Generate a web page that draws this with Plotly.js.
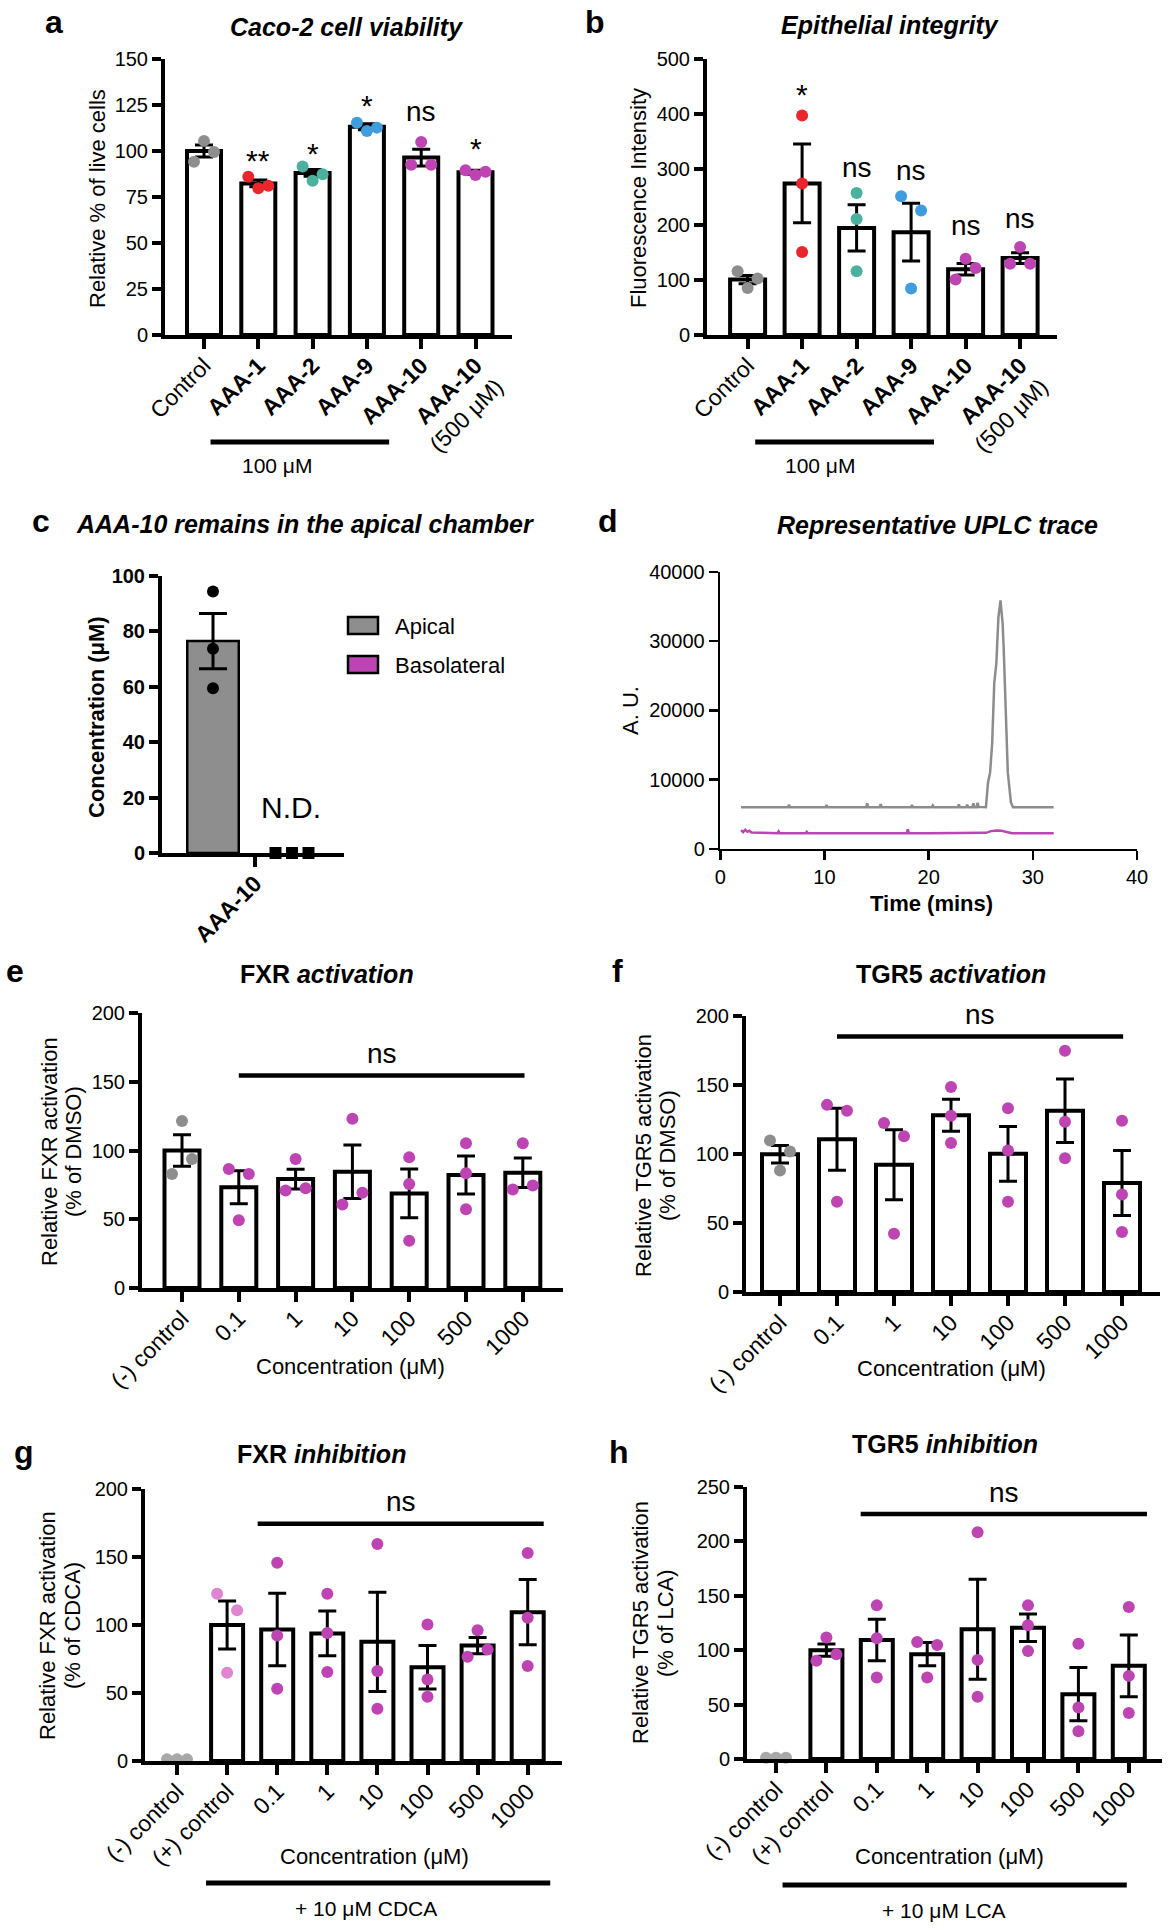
<!DOCTYPE html>
<html><head><meta charset="utf-8">
<script src="https://cdn.plot.ly/plotly-3.0.1.min.js"></script>
<style>body{margin:0;background:#fff}#chart{width:1168px;height:1932px}</style>
</head><body><div id="chart"></div>
<script>
// ---------------- DATA ----------------
// Panel a: Caco-2 cell viability
const aTickText = ['Control','<b>AAA-1</b>','<b>AAA-2</b>','<b>AAA-9</b>','<b>AAA-10</b>','<b>AAA-10</b><br>(500 μM)'];
const aMeans = [100, 82.4, 88.1, 113.2, 96.4, 88.5];
const aSem = [3.2, 1.8, 1.8, 1.6, 4.5, 1.1];
const aDots = [[105.5,99.5,94.1],[86.0,79.7,81.1],[91.6,83.8,87.4],[115.4,110.9,112.7],[104.9,92.5,92.5],[89.6,86.9,88.7]];
const aJitter = [[0,1,-1],[-1,0,1],[-1,0,1],[-1,0,1],[0,-1,1],[-1,0,1]];
const aSig = ['','**','*','*','ns','*'];
const aSigY = [0, 99.2, 102.8, 128.9, 121.7, 105.5];

// Panel b: Epithelial integrity
const bTickText = aTickText;
const bMeans = [100.5, 274.6, 194.0, 186.3, 119.0, 139.4];
const bSem = [7.5, 71.3, 41.8, 52.3, 10.5, 9.8];
const bDots = [[115.4,102.2,85.3],[397.8,274.6,150.2],[257.2,210.3,115.4],[251.2,225.4,84.1],[138.2,121.4,100.4],[159.3,129.2,129.2]];
const bJitter = [[-1,1,0],[0,0,0],[0,0,0],[-1,1,0],[0,1,-1],[0,-1,1]];
const bSig = ['','*','ns','ns','ns','ns'];
const bSigY = [0, 450.7, 303.5, 297.5, 198.3, 210.3];

// Panel c: AAA-10 remains in the apical chamber
const cTickText = ['<b>AAA-10</b>'];
const cApicalMean = [76.5];
const cApicalSem = [10.0];
const cApicalDots = [94.4, 73.7, 59.5];
const cBasoDots = [0, 0, 0];

// Panel d: UPLC trace
const dApicalT = [2.0,4.0,6.5,6.6,6.7,10.1,10.2,10.3,14.0,14.1,14.2,15.3,15.4,15.5,18.3,18.4,18.5,20.3,20.4,20.5,22.8,22.9,23.0,23.6,23.7,23.8,24.2,24.3,24.4,24.6,24.7,24.8,25.5,25.7,25.9,26.1,26.3,26.5,26.7,26.9,27.1,27.2,27.4,27.6,27.9,28.1,32.0];
const dApicalY = [6000,6000,6000,6350,6000,6000,6300,6000,6000,6550,6000,6000,6450,6000,6000,6300,6000,6000,6250,6000,6000,6400,6000,6000,6350,6000,6000,6550,6000,6000,6650,6050,6000,9580,11000,15300,23960,26800,33500,35900,32600,29200,20600,11000,6700,6000,6000];
const dBasoT = [2.0,2.2,2.4,2.6,2.8,3.0,4.0,5.5,5.6,5.7,7.0,8.2,8.3,8.4,10.0,12.0,15.0,17.9,18.0,18.1,20.0,22.0,24.0,25.5,26.0,26.5,27.0,27.5,28.0,30.0,32.0];
const dBasoY = [2700,2400,2750,2450,2600,2350,2300,2250,2500,2250,2250,2250,2450,2250,2250,2250,2250,2250,2800,2250,2250,2250,2250,2300,2550,2650,2600,2450,2250,2250,2250];

// Panel e: FXR activation
const eTickText = ['(-) control','0.1','1','10','100','500','1000'];
const eMeans = [100, 73.3, 79.2, 84.5, 68.8, 82.2, 83.8];
const eSem = [11.5, 12.0, 7.2, 19.5, 17.7, 13.8, 10.7];
const eDots = [[121.4,93.8,82.9],[86.5,82.9,49.3],[93.8,70.9,72.6],[123.1,69.2,60.8],[95.0,75.7,34.4],[105.3,83.4,57.2],[105.3,71.6,74.5]];
const eJitter = [[0,1,-1],[-1,1,0],[0,-1,1],[0,1,-1],[0,0,0],[0,0,0],[0,-1,1]];

// Panel f: TGR5 activation
const fTickText = eTickText;
const fMeans = [99.8, 110.7, 92.2, 128.1, 100.1, 131.3, 79.0];
const fSem = [6.3, 22.5, 25.4, 11.6, 19.8, 23.0, 23.6];
const fDots = [[109.7,101.8,88.1],[135.6,131.3,65.4],[122.4,112.8,42.2],[148.5,127.7,108.0],[133.2,102.5,65.4],[174.9,123.4,97.0],[124.1,70.7,43.4]];
const fJitter = [[-1,1,0],[-1,1,0],[-1,1,0],[0,0,0],[0,0,0],[0,0,0],[0,0,0]];

// Panel g: FXR inhibition
const gTickText = ['(-) control','(+) control','0.1','1','10','100','500','1000'];
const gMeans = [null, 100, 96.7, 93.8, 87.6, 69.0, 84.9, 109.4];
const gSem = [null, 17.7, 26.7, 16.5, 36.5, 16.0, 6.0, 24.0];
const gDots = [[1.2,1.2,1.2],[122.9,110.9,64.9],[145.7,92.3,53.1],[122.9,94.2,65.4],[159.6,66.1,38.4],[100.4,60.0,47.2],[96.2,82.0,76.6],[153.0,105.3,69.8]];
const gJitter = [[-1,0,1],[-1,1,0],[0,0,0],[0,0,0],[0,0,0],[0,0,0],[0,1,-1],[0,0,0]];

// Panel h: TGR5 inhibition
const hTickText = gTickText;
const hMeans = [null, 100, 109.4, 96.3, 119.2, 120.7, 59.6, 85.6];
const hSem = [null, 5.6, 19.1, 10.7, 45.9, 12.6, 24.4, 28.3];
const hDots = [[1.2,1.2,1.2],[111.6,96.3,90.2],[141.2,110.9,74.9],[107.6,104.8,74.9],[208.4,91.1,57.2],[141.2,122.9,99.3],[106.0,47.4,25.4],[139.7,76.4,42.2]];
const hJitter = [[-1,0,1],[0,1,-1],[0,0,0],[-1,1,0],[0,0,0],[0,0,0],[0,0,0],[0,0,0]];

// ---------------- STYLE / LAYOUT ----------------
const FONT = '"Liberation Sans", Arial, Helvetica, sans-serif';
const W = 1168, H = 1932, LW = 4, JIT = 10;
const XTICK = 23, YTICK = 20, TITLE = 25;
const PX = x => x / W;
const PY = y => 1 - y / H;
const GRAY = '#8e8e8e', RED = '#e8262b', TEAL = '#4bb19e', BLUE = '#3f9ddf', MAG = '#bd44b2', LMAG = '#df85d2', LGRAY = '#a8a8a8';

const aColors = [GRAY, RED, TEAL, BLUE, MAG, MAG];
const eColors = [GRAY, MAG, MAG, MAG, MAG, MAG, MAG];
const gColors = [LGRAY, LMAG, MAG, MAG, MAG, MAG, MAG, MAG];
const hColors = [LGRAY, MAG, MAG, MAG, MAG, MAG, MAG, MAG];

const GEO = {
  a: {k:1, x0:163, x1:512, c0:204, sp:54.3, y0:59, y1:337, barPx:34, yMax:150},
  b: {k:2, x0:705, x1:1057, c0:747.6, sp:54.5, y0:59, y1:337, barPx:35, yMax:500},
  c: {k:3, x0:160, x1:344, c0:255, sp:80, y0:576, y1:855, yMax:100},
  d: {k:4, x0:719, x1:1137, y0:572, y1:850, yMax:40000},
  e: {k:5, x0:140, x1:563, c0:182, sp:56.8, y0:1013, y1:1290, barPx:35, yMax:200},
  f: {k:6, x0:744, x1:1160, c0:780, sp:57, y0:1016, y1:1294, barPx:36, yMax:200},
  g: {k:7, x0:143, x1:562, c0:177, sp:50.1, y0:1489, y1:1763, barPx:32, yMax:200},
  h: {k:8, x0:745, x1:1162, c0:776, sp:50.4, y0:1487, y1:1761, barPx:32, yMax:250}
};

const traces = [], shapes = [], annotations = [];
const layout = {width:W, height:H, margin:{l:0,r:0,t:0,b:0}, paper_bgcolor:'white', plot_bgcolor:'rgba(0,0,0,0)',
  showlegend:false, barmode:'overlay', font:{family:FONT, color:'black'}, hovermode:false};

const ax = k => (k === 1 ? '' : String(k));
function baseAxis(lw) {
  lw = lw || LW;
  return {showline:true, linecolor:'black', linewidth:lw, ticks:'outside', tickwidth:lw, tickcolor:'black',
    showgrid:false, zeroline:false, fixedrange:true, tickfont:{family:FONT, size:YTICK, color:'black'}};
}
function note(text, x, y, size, opts) {
  annotations.push(Object.assign({text:text, x:PX(x), y:PY(y), xref:'paper', yref:'paper', showarrow:false,
    xanchor:'center', yanchor:'middle', font:{family:FONT, size:size, color:'black'}}, opts || {}));
}
function yTitle2(line1, line2, x1, x2, y) {
  note(line1, x1, y, 22, {textangle:-90});
  note(line2, x2, y, 22, {textangle:-90});
}
function setAxes(g, xOpts, yOpts, lw) {
  lw = lw || LW;
  const dx0 = g.x0 + lw/2, dy1 = g.y1 - lw/2;
  const k = g.k;
  const xa = Object.assign(baseAxis(lw), {domain:[PX(dx0), PX(g.x1)], anchor:'y'+ax(k)}, xOpts);
  if (g.sp) xa.range = [(dx0 - g.c0)/g.sp, (g.x1 - g.c0)/g.sp];
  layout['xaxis'+ax(k)] = xa;
  layout['yaxis'+ax(k)] = Object.assign(baseAxis(lw), {domain:[PY(dy1), PY(g.y0)], anchor:'x'+ax(k), range:[0, g.yMax]}, yOpts);
}
// value -> page pixel for a panel's y axis
function vy(g, v) { return (g.y1 - LW/2) - v / g.yMax * ((g.y1 - LW/2) - g.y0); }

function addBarPanel(g, d) {
  const k = g.k, xr = 'x'+ax(k), yr = 'y'+ax(k);
  const idx = d.means.map((_, i) => i);
  setAxes(g, {tickmode:'array', tickvals:idx, ticktext:d.tickText, tickangle:-45, ticklen:10, ticklabelstandoff:-6,
              tickfont:{family:FONT, size:XTICK, color:'black'}},
             {tickmode:'linear', tick0:0, dtick:d.dtick, ticklen:9});
  traces.push({type:'bar', x:idx, y:d.means, width:g.barPx/g.sp, xaxis:xr, yaxis:yr,
    marker:{color:'white', line:{color:'black', width:LW}},
    error_y:{type:'data', array:d.sem, visible:true, color:'black', thickness:3, width:9}});
  const xs = [], ys = [], cs = [];
  d.dots.forEach((grp, i) => grp.forEach((v, j) => { xs.push(i + d.jitter[i][j]*JIT/g.sp); ys.push(v); cs.push(d.colors[i]); }));
  traces.push({type:'scatter', mode:'markers', x:xs, y:ys, xaxis:xr, yaxis:yr, cliponaxis:false,
    marker:{size:12, color:cs, line:{width:0}}});
  if (d.sig) d.sig.forEach((s, i) => {
    if (!s) return;
    const star = s.indexOf('*') >= 0;
    annotations.push({text:s, x:i, y:PY(vy(g, d.sigY[i])), xref:xr, yref:'paper', showarrow:false, xanchor:'center', yanchor:'middle',
      yshift: star ? -8 : 0, font:{family:FONT, size: star ? 30 : 28, color:'black'}});
  });
}
function nsBar(g, x0, x1, yLine, yText) {
  const xr = 'x'+ax(g.k), yr = 'y'+ax(g.k);
  shapes.push({type:'line', xref:xr, yref:yr, x0:x0, x1:x1, y0:yLine, y1:yLine, line:{color:'black', width:4.5}});
  annotations.push({text:'ns', x:(x0+x1)/2, y:PY(vy(g, yText)), xref:xr, yref:'paper', showarrow:false, xanchor:'center', yanchor:'middle',
    font:{family:FONT, size:28, color:'black'}});
}
function underBar(g, x0, x1, yPx, text, xText, yTextPx) {
  const xr = 'x'+ax(g.k);
  shapes.push({type:'line', xref:xr, yref:'paper', x0:x0, x1:x1, y0:PY(yPx), y1:PY(yPx), line:{color:'black', width:5}});
  annotations.push({text:text, x:xText, y:PY(yTextPx), xref:xr, yref:'paper', showarrow:false, xanchor:'center', yanchor:'middle',
    font:{family:FONT, size:21, color:'black'}});
}

// ---- a ----
addBarPanel(GEO.a, {means:aMeans, sem:aSem, dots:aDots, jitter:aJitter, colors:aColors, tickText:aTickText, dtick:25, sig:aSig, sigY:aSigY});
underBar(GEO.a, 0.12, 3.41, 442, '100 μM', 1.34, 465);
note('<b>a</b>', 54, 22, 32);
note('<b><i>Caco-2 cell viability</i></b>', 346, 27, TITLE);
note('Relative % of live cells', 98, 199, 22, {textangle:-90});

// ---- b ----
addBarPanel(GEO.b, {means:bMeans, sem:bSem, dots:bDots, jitter:bJitter, colors:aColors, tickText:bTickText, dtick:100, sig:bSig, sigY:bSigY});
underBar(GEO.b, 0.14, 3.42, 442, '100 μM', 1.33, 465);
note('<b>b</b>', 595, 22, 32);
note('<b><i>Epithelial integrity</i></b>', 890, 25, TITLE);
note('Fluorescence Intensity', 638, 198, 22, {textangle:-90});

// ---- c ----
(function(){
  const g = GEO.c, xr = 'x3', yr = 'y3';
  setAxes(g, {tickmode:'array', tickvals:[0], ticktext:cTickText, tickangle:-45, ticklen:10, ticklabelstandoff:-6,
              tickfont:{family:FONT, size:XTICK, color:'black'}},
             {tickmode:'linear', tick0:0, dtick:20, ticklen:9, tickfont:{family:FONT, size:YTICK, color:'black', weight:'bold'}});
  const apX = (213 - g.c0)/g.sp;
  traces.push({type:'bar', x:[apX], y:cApicalMean, width:(54-2.5)/g.sp, xaxis:xr, yaxis:yr,
    marker:{color:'#8e8e8e', line:{color:'black', width:2.5}},
    error_y:{type:'data', array:cApicalSem, visible:true, color:'black', thickness:3, width:14}});
  traces.push({type:'scatter', mode:'markers', x:cApicalDots.map(() => apX), y:cApicalDots, xaxis:xr, yaxis:yr, cliponaxis:false,
    marker:{size:12, color:'black'}});
  const bsX = (292 - g.c0)/g.sp, off = [-1, 0, 1];
  traces.push({type:'scatter', mode:'markers', x:cBasoDots.map((_, i) => bsX + off[i]*16.5/g.sp), y:cBasoDots, xaxis:xr, yaxis:yr, cliponaxis:false,
    marker:{size:12, color:'black', symbol:'square'}});
  note('<b>c</b>', 41, 521, 32);
  note('<b><i>AAA-10 remains in the apical chamber</i></b>', 74, 524, TITLE, {xanchor:'left'});
  note('<b>Concentration (μM)</b>', 96, 717, 22, {textangle:-90});
  note('N.D.', 291, 807, 30);
  shapes.push({type:'rect', xref:'paper', yref:'paper', x0:PX(348), x1:PX(378), y0:PY(634), y1:PY(617), fillcolor:'#8e8e8e', line:{color:'black', width:2.5}});
  shapes.push({type:'rect', xref:'paper', yref:'paper', x0:PX(348), x1:PX(378), y0:PY(673), y1:PY(656), fillcolor:MAG, line:{color:'black', width:2.5}});
  note('Apical', 393, 626, 22, {xanchor:'left'});
  note('Basolateral', 393, 665, 22, {xanchor:'left'});
})();

// ---- d ----
(function(){
  const g = GEO.d;
  setAxes(g, {range:[0,40], tickmode:'linear', tick0:0, dtick:10, ticklen:9},
             {tickmode:'linear', tick0:0, dtick:10000, ticklen:9, tickformat:'d', exponentformat:'none'}, 2.5);
  traces.push({type:'scatter', mode:'lines', x:dApicalT, y:dApicalY, xaxis:'x4', yaxis:'y4', line:{color:'#8c8c8c', width:2.5}});
  traces.push({type:'scatter', mode:'lines', x:dBasoT, y:dBasoY, xaxis:'x4', yaxis:'y4', line:{color:MAG, width:2.5}});
  note('<b>d</b>', 608, 521, 32);
  note('<b><i>Representative UPLC trace</i></b>', 937, 525, TITLE);
  note('A. U.', 630, 711, 22, {textangle:-90});
  note('<b>Time (mins)</b>', 931, 904, 22);
})();

// ---- e ----
addBarPanel(GEO.e, {means:eMeans, sem:eSem, dots:eDots, jitter:eJitter, colors:eColors, tickText:eTickText, dtick:50});
nsBar(GEO.e, 1.0, 6.03, 154.6, 170.7);
note('<b>e</b>', 15, 971, 32);
note('<b>FXR <i>activation</i></b>', 327, 974, TITLE);
yTitle2('Relative FXR activation', '(% of DMSO)', 49, 73, 1152);
note('Concentration (μM)', 350, 1366, 22);

// ---- f ----
addBarPanel(GEO.f, {means:fMeans, sem:fSem, dots:fDots, jitter:fJitter, colors:eColors, tickText:fTickText, dtick:50});
nsBar(GEO.f, 1.0, 6.02, 185.1, 201.4);
note('<b>f</b>', 617, 971, 32);
note('<b>TGR5 <i>activation</i></b>', 951, 974, TITLE);
yTitle2('Relative TGR5 activation', '(% of DMSO)', 643, 667, 1156);
note('Concentration (μM)', 951, 1368, 22);

// ---- g ----
addBarPanel(GEO.g, {means:gMeans, sem:gSem, dots:gDots, jitter:gJitter, colors:gColors, tickText:gTickText, dtick:50});
nsBar(GEO.g, 1.61, 7.32, 174.5, 190.9);
underBar(GEO.g, 0.58, 7.45, 1883, '+ 10 μM CDCA', 3.78, 1908);
note('<b>g</b>', 24, 1452, 32);
note('<b>FXR <i>inhibition</i></b>', 321, 1454, TITLE);
yTitle2('Relative FXR activation', '(% of CDCA)', 47, 72, 1626);
note('Concentration (μM)', 374, 1856, 22);

// ---- h ----
addBarPanel(GEO.h, {means:hMeans, sem:hSem, dots:hDots, jitter:hJitter, colors:hColors, tickText:hTickText, dtick:50});
nsBar(GEO.h, 1.68, 7.36, 225.2, 244.5);
underBar(GEO.h, 0.13, 6.96, 1885, '+ 10 μM LCA', 3.33, 1910);
note('<b>h</b>', 619, 1452, 32);
note('<b>TGR5 <i>inhibition</i></b>', 945, 1444, TITLE);
yTitle2('Relative TGR5 activation', '(% of LCA)', 640, 665, 1623);
note('Concentration (μM)', 949, 1856, 22);

layout.shapes = shapes;
layout.annotations = annotations;
Plotly.newPlot('chart', traces, layout, {staticPlot:true, displayModeBar:false});
</script></body></html>
